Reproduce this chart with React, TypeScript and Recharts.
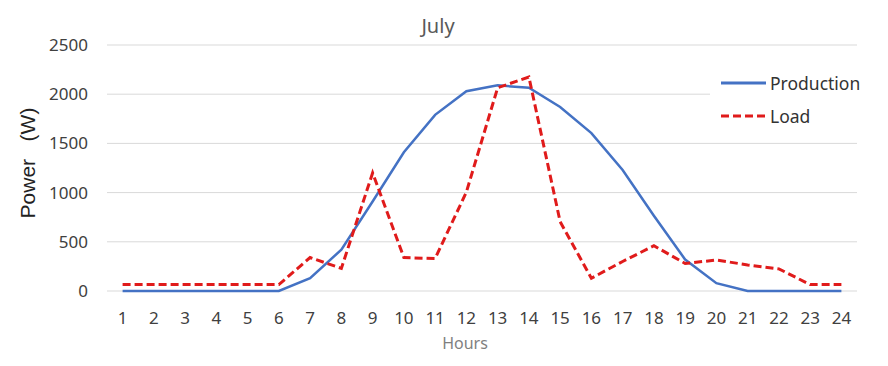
import React from 'react';
import { LineChart, Line, XAxis, YAxis, CartesianGrid, Legend, Label } from 'recharts';

const hours = ['1','2','3','4','5','6','7','8','9','10','11','12','13','14','15','16','17','18','19','20','21','22','23','24'];
const production = [0,0,0,0,0,0,130,420,910,1410,1790,2030,2090,2065,1870,1605,1230,765,320,80,0,0,0,0];
const load = [65,65,65,65,65,65,340,230,1200,340,330,1005,2065,2175,705,130,300,460,280,315,265,225,65,65];
const yTicks = [0,500,1000,1500,2000,2500];

const data = hours.map((h, i) => ({ hour: h, Production: production[i], Load: load[i] }));

const FONT = '"Noto Sans", "Open Sans", sans-serif';
const BLUE = '#4472C4';
const RED = '#E01B1B';

const renderLegend = () => (
  <div style={{ background: '#fff', fontFamily: FONT, fontSize: 17.5, color: '#333', paddingTop: 4, paddingBottom: 4 }}>
    <div style={{ display: 'flex', alignItems: 'center', height: 33 }}>
      <svg width={45} height={6} style={{ marginLeft: 11 }}>
        <line x1={0} y1={3} x2={45} y2={3} stroke={BLUE} strokeWidth={3} />
      </svg>
      <span style={{ marginLeft: 4 }}>Production</span>
    </div>
    <div style={{ display: 'flex', alignItems: 'center', height: 33 }}>
      <svg width={45} height={6} style={{ marginLeft: 11 }}>
        <line x1={0} y1={3} x2={45} y2={3} stroke={RED} strokeWidth={3} strokeDasharray="8 4" />
      </svg>
      <span style={{ marginLeft: 4 }}>Load</span>
    </div>
  </div>
);

export default function App() {
  return (
    <div style={{ position: 'absolute', left: 0, top: 0, width: 888, height: 366, background: '#fff' }}>
      <div style={{ position: 'absolute', left: 388, top: 12, width: 100, textAlign: 'center', fontFamily: FONT, fontSize: 20, color: '#595959' }}>
        July
      </div>
      <LineChart width={888} height={366} data={data} margin={{ top: 45, right: 31, left: 0, bottom: 0 }}>
        <CartesianGrid vertical={false} stroke="#d9d9d9" strokeWidth={1} />
        <XAxis
          dataKey="hour"
          height={75}
          axisLine={false}
          tickLine={false}
          interval={0}
          padding={{ left: 15.6, right: 15.6 }}
          tickMargin={15}
          tick={{ fill: '#404040', fontSize: 17, fontFamily: FONT }}
        >
          <Label value="Hours" position="center" dx={-17} dy={15} style={{ fill: '#7f7f7f', fontSize: 16, fontFamily: FONT }} />
        </XAxis>
        <YAxis
          width={107}
          domain={[0, 2500]}
          ticks={yTicks}
          axisLine={false}
          tickLine={false}
          tickMargin={13}
          tick={{ fill: '#404040', fontSize: 17, fontFamily: FONT }}
        >
          <Label value={'Power\u00A0\u00A0\u00A0(W)'} angle={-90} position="center" dx={-26} dy={-5} style={{ fill: '#222', fontSize: 21, fontFamily: '"Liberation Sans", Arial, sans-serif', textAnchor: 'middle' }} />
        </YAxis>
        <Legend
          layout="vertical"
          align="center"
          verticalAlign="middle"
          content={renderLegend}
          wrapperStyle={{ position: 'absolute', left: 710, top: 62, width: 160 }}
        />
        <Line type="linear" dataKey="Production" stroke={BLUE} strokeWidth={2.5} dot={false} isAnimationActive={false} />
        <Line type="linear" dataKey="Load" stroke={RED} strokeWidth={3} strokeDasharray="8 4" dot={false} isAnimationActive={false} />
      </LineChart>
    </div>
  );
}
